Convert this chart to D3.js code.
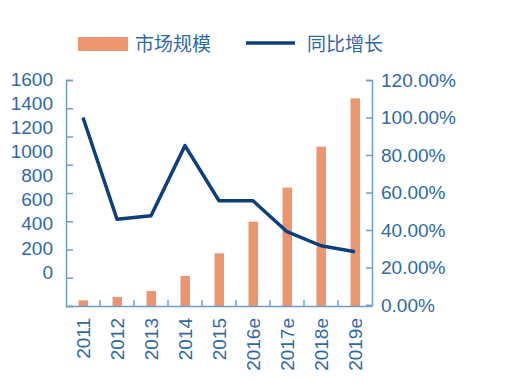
<!DOCTYPE html>
<html>
<head>
<meta charset="utf-8">
<script src="https://cdn.jsdelivr.net/npm/d3@7"></script>
<style>
  html, body { margin: 0; padding: 0; background: #fff; }
  #root { width: 520px; height: 387px; }
  text { font-family: "Liberation Sans", Arial, sans-serif; fill: #2f6aa6; }
  .cjk { font-family: "Noto Sans CJK SC", sans-serif; }
</style>
</head>
<body>
<div id="root"></div>
<script>
// ——— données
const categories = ["2011","2012","2013","2014","2015","2016e","2017e","2018e","2019e"];
const marketSize = [40, 64, 106, 212, 373, 597, 838, 1128, 1470];
const growth     = [1.00, 0.457, 0.476, 0.85, 0.556, 0.556, 0.391, 0.316, 0.284];
const leftTicks  = [0, 200, 400, 600, 800, 1000, 1200, 1400, 1600];
const rightTicks = [0, 0.2, 0.4, 0.6, 0.8, 1.0, 1.2];
const seriesNames = ["市场规模", "同比增长"];

const axisColor = "#6f9cc8";
const barColor  = "#ec9670";
const lineColor = "#0d3f7f";

const width = 520, height = 387;
const margin = { top: 80, right: 148, bottom: 81, left: 66 };
const innerW = width - margin.left - margin.right;
const innerH = height - margin.top - margin.bottom;

const svg = d3.select("#root").append("svg")
  .attr("width", width).attr("height", height);
const g = svg.append("g").attr("transform", `translate(${margin.left},${margin.top})`);

// ——— échelles
const x = d3.scaleBand().domain(categories).range([0, innerW]).padding(0);
const y = d3.scaleLinear().domain([0, 1600]).range([innerH, 0]);
const y2 = d3.scaleLinear().domain([0, 1.2]).range([innerH - 1, 0]);
// les libellés de gauche sont décalés par rapport aux graduations (comme l'original)
const yLabel = d3.scaleLinear().domain([0, 1600]).range([192, -1]);

// ——— axe gauche
const ax = g.append("g")
  .call(d3.axisLeft(y).tickValues(leftTicks).tickSize(-7).tickFormat(""));
ax.selectAll("path, line").attr("stroke", axisColor).attr("stroke-width", 1.5);

g.append("g").selectAll("text")
  .data(leftTicks)
  .enter().append("text")
  .attr("x", -13)
  .attr("y", d => yLabel(d))
  .attr("dy", "0.35em")
  .attr("text-anchor", "end")
  .style("font-size", "19px")
  .text(d => d);

// ——— axe droit
const ar = g.append("g")
  .attr("transform", `translate(${innerW},0)`)
  .call(d3.axisRight(y2).tickValues(rightTicks).tickSize(-6).tickPadding(9)
    .tickFormat(d3.format(".2%")));
ar.selectAll("path, line").attr("stroke", axisColor).attr("stroke-width", 1.5);
ar.selectAll("text").style("font-size", "19px").attr("fill", "#2f6aa6");

// ——— barres
g.selectAll(".bar")
  .data(categories)
  .enter().append("rect")
  .attr("x", (d) => x(d) + x.bandwidth() / 2 - 4.5)
  .attr("width", 9.5)
  .attr("y", (d, i) => y(marketSize[i]))
  .attr("height", (d, i) => innerH - y(marketSize[i]))
  .attr("fill", barColor);

// ——— axe bas
const ab = g.append("g")
  .attr("transform", `translate(0,${innerH})`)
  .call(d3.axisBottom(x).tickSize(0).tickPadding(0));
ab.select(".domain").attr("stroke", axisColor).attr("stroke-width", 1.5);
ab.selectAll("text")
  .attr("transform", "rotate(-90)")
  .attr("x", -12)
  .attr("y", 0)
  .attr("dx", 0)
  .attr("dy", "0.35em")
  .attr("text-anchor", "end")
  .style("font-size", "19px")
  .attr("fill", "#2f6aa6");

g.append("g").selectAll("line")
  .data(categories.slice(1))
  .enter().append("line")
  .attr("x1", d => x(d)).attr("x2", d => x(d))
  .attr("y1", innerH).attr("y2", innerH - 6)
  .attr("stroke", axisColor).attr("stroke-width", 1.5);

// ——— courbe
const line = d3.line()
  .x((d, i) => x(categories[i]) + x.bandwidth() / 2)
  .y(d => y2(d));
g.append("path")
  .datum(growth)
  .attr("d", line)
  .attr("fill", "none")
  .attr("stroke", lineColor)
  .attr("stroke-width", 3.5)
  .attr("stroke-linejoin", "round");

// ——— légende
const lg = svg.append("g");
lg.append("rect").attr("x", 78).attr("y", 37).attr("width", 50).attr("height", 14).attr("fill", barColor);
lg.append("text").attr("class", "cjk").attr("x", 135).attr("y", 44).attr("dy", "0.35em")
  .style("font-size", "19px").text(seriesNames[0]);
lg.append("line").attr("x1", 246).attr("x2", 295).attr("y1", 43).attr("y2", 43)
  .attr("stroke", lineColor).attr("stroke-width", 3.5);
lg.append("text").attr("class", "cjk").attr("x", 307).attr("y", 44).attr("dy", "0.35em")
  .style("font-size", "19px").text(seriesNames[1]);
</script>
</body>
</html>
